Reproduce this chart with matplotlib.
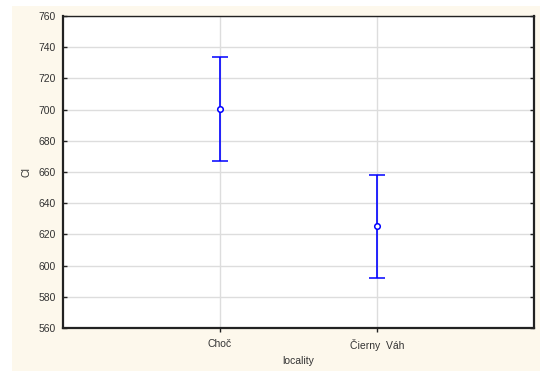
import matplotlib
matplotlib.use("Agg")
import matplotlib.pyplot as plt
from matplotlib.patches import Rectangle

plt.rcParams['font.family'] = ['Liberation Sans', 'DejaVu Sans']

localities = ["Choč", "Čierny  Váh"]
means = [700.4, 625.2]
ci_half = [33.1, 33.0]
yticks = list(range(560, 761, 20))

fig = plt.figure(figsize=(5.44, 3.72), dpi=100, facecolor="white")
# beige panel behind the plot
fig.patches.append(Rectangle((12 / 544, 1 - 371 / 372), 528 / 544, 365 / 372,
                             transform=fig.transFigure, facecolor="#fdf8ec",
                             edgecolor="none", zorder=-10))

ax = fig.add_axes([63 / 544, 1 - 328 / 372, 471 / 544, 312 / 372])
ax.set_facecolor("white")

xs = [1, 2]
ax.errorbar(xs, means, yerr=ci_half, fmt="o", color="#0000ff", ecolor="#0000ff",
            elinewidth=1.2, capsize=6, capthick=1.2, markersize=4,
            markerfacecolor="white", markeredgewidth=1.1, zorder=3)

ax.set_xlim(0, 3)
ax.set_ylim(560, 760)
ax.set_xticks(xs)
ax.set_xticklabels(localities, fontsize=7.5, color="#333333")
ax.set_yticks(yticks)
ax.set_yticklabels([str(t) for t in yticks], fontsize=7.5, color="#333333")

ax.grid(True, color="#dddddd", linewidth=1.0, zorder=0)
ax.set_axisbelow(True)

for side, sp in ax.spines.items():
    sp.set_color("#222222")
    sp.set_linewidth(1.6 if side != "top" else 1.0)

ax.tick_params(axis="y", direction="in", length=3, width=1, left=True, right=True,
               pad=5, color="#222222")
ax.tick_params(axis="x", direction="out", length=3, width=1, pad=5, color="#222222")

ax.set_xlabel("locality", fontsize=7.5, color="#333333")
ax.xaxis.set_label_coords(0.5, -28 / 312, transform=ax.transAxes)
ax.set_ylabel("Cl", fontsize=7.5, color="#333333")
ax.yaxis.set_label_coords(-32 / 471, 0.5, transform=ax.transAxes)

fig.savefig("out.png", dpi=100, facecolor=fig.get_facecolor())
